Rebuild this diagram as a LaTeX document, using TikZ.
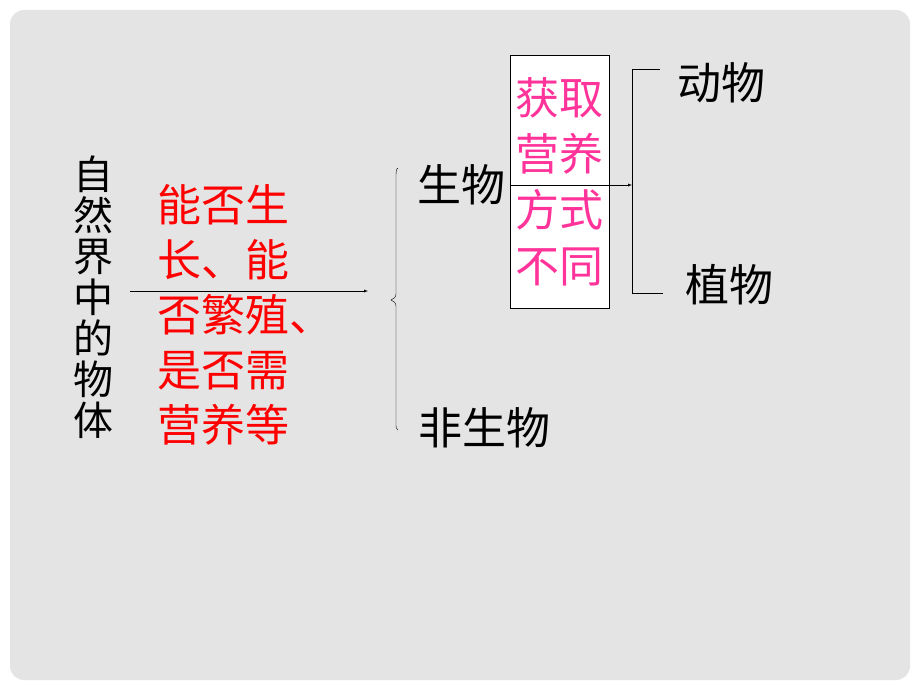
\documentclass[tikz,border=0pt]{standalone}
\usepackage{fontspec}
\setmainfont{Noto Sans CJK SC}
\usetikzlibrary{arrows}
\definecolor{slide}{RGB}{228,228,228}
\definecolor{rosered}{RGB}{255,51,153}
\begin{document}
\begin{tikzpicture}[x=1pt, y=-1pt,
		lbl/.style={inner sep=0pt, font=\fontsize{44}{55}\selectfont},
		redlbl/.style={lbl, text=red, align=left},
		pinklbl/.style={lbl, text=rosered, align=center, font=\fontsize{44}{56}\selectfont}]
			\useasboundingbox (0,0) rectangle (920,690);
			\fill[white] (0,0) rectangle (920,690);
			\fill[slide, rounded corners=14pt] (10,10) rectangle (910,680);
			% left side
			\node[lbl, align=center, font=\fontsize{40}{41}\selectfont] (nature) at (93,297) {自\\然\\界\\中\\的\\物\\体};
			\node[redlbl, anchor=west] (criteria) at (157,315) {能否生\\长、能\\否繁殖、\\是否需\\营养等};
			\coordinate (arrstart) at (130,291);
			\coordinate (arrend) at (368,291);
			\draw[-latex, thin] (arrstart) -- (arrend);
			% brace
			\draw[thin] (398,168) .. controls (396,169) and (396,172) .. (396,178) -- (396,292) .. controls (396,297) .. (391,300)
				.. controls (396,303) .. (396,308) -- (396,422) .. controls (396,428) and (396,429) .. (398,430);
			\node[lbl] (living) at (461,185) {生物};
			\node[lbl] (nonliving) at (484,428) {非生物};
			% box
			\node[pinklbl, draw=black, fill=white, thin, minimum width=99pt, minimum height=253pt] (nutri) at (559.5,181.5) {获取\\营养\\方式\\不同};
			\coordinate (brkmid) at (632,185);
			\draw[-latex, thin] (nutri.west |- brkmid) -- (brkmid);
			\coordinate (brktop) at (632,69);
			\coordinate (brkbot) at (632,293);
			\draw[thin] (660,69) -- (brktop) -- (brkbot) -- (663,293);
			\node[lbl] (animal) at (721,83) {动物};
			\node[lbl] (plant) at (729,285) {植物};
		\end{tikzpicture}
\end{document}
